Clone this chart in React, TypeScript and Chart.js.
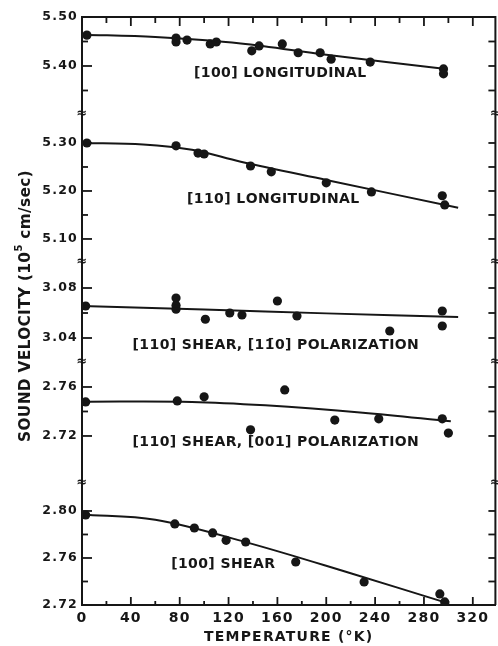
import React, { useEffect, useRef } from 'react';
import { Chart, registerables } from 'chart.js';

Chart.register(...registerables);

// ---------- data (temperature in °K, sound velocity in 10^5 cm/sec) ----------
const l100T = [4, 77, 77, 86, 105, 110, 139, 145, 164, 177, 195, 204, 236, 296, 296];
const l100V = [5.463, 5.457, 5.449, 5.453, 5.445, 5.449, 5.431, 5.441, 5.445, 5.427, 5.427, 5.414, 5.408, 5.394, 5.384];
const l100FitT = [0, 60, 130, 200, 298];
const l100FitV = [5.464, 5.459, 5.446, 5.423, 5.394];

const l110T = [4, 77, 95, 100, 138, 155, 200, 237, 295, 297];
const l110V = [5.300, 5.294, 5.279, 5.277, 5.252, 5.240, 5.217, 5.198, 5.190, 5.171];
const l110FitT = [0, 50, 90, 130, 200, 308];
const l110FitV = [5.300, 5.297, 5.286, 5.261, 5.223, 5.165];

const s110aT = [3, 77, 77, 77, 101, 121, 131, 160, 176, 252, 295, 295];
const s110aV = [3.0656, 3.072, 3.066, 3.063, 3.055, 3.060, 3.0584, 3.0696, 3.0576, 3.0456, 3.0616, 3.0496];
const s110aFitT = [0, 100, 200, 308];
const s110aFitV = [3.0656, 3.0628, 3.0597, 3.0568];

const s110bT = [3, 78, 100, 138, 166, 207, 243, 295, 300];
const s110bV = [2.7478, 2.7486, 2.752, 2.725, 2.7576, 2.733, 2.734, 2.734, 2.7224];
const s110bFitT = [0, 90, 150, 230, 302];
const s110bFitV = [2.748, 2.7478, 2.745, 2.739, 2.732];

const s100T = [3, 76, 92, 107, 118, 134, 175, 231, 293, 297];
const s100V = [2.7966, 2.789, 2.7855, 2.7813, 2.775, 2.7736, 2.7566, 2.7396, 2.7294, 2.7226];
const s100FitT = [0, 60, 134, 220, 298];
const s100FitV = [2.797, 2.7925, 2.7735, 2.747, 2.722];

const seriesNames = [
  '[100] LONGITUDINAL',
  '[110] LONGITUDINAL',
  '[110] SHEAR, [11\u03040] POLARIZATION',
  '[110] SHEAR, [001] POLARIZATION',
  '[100] SHEAR',
];

// axis ranges and ticks of the five broken-axis panels (top to bottom)
const panelIds = ['y1', 'y2', 'y3', 'y4', 'y5'];
const panelMin = [5.302, 5.052, 3.0208, 2.6816, 2.72];
const panelMax = [5.50, 5.3604, 3.1008, 2.7804, 2.8238];
const panelTicks = [
  [5.35, 5.40, 5.45, 5.50],
  [5.10, 5.15, 5.20, 5.25, 5.30],
  [3.04, 3.06, 3.08],
  [2.72, 2.74, 2.76],
  [2.72, 2.74, 2.76, 2.78, 2.80],
];
const panelLabels = [
  [5.40, 5.50],
  [5.10, 5.20, 5.30],
  [3.04, 3.08],
  [2.72, 2.76],
  [2.72, 2.76, 2.80],
];
const xTicks = [0, 20, 40, 60, 80, 100, 120, 140, 160, 180, 200, 220, 240, 260, 280, 300, 320];
const xLabels = [0, 40, 80, 120, 160, 200, 240, 280, 320];

// ---------- layout / style ----------
const panelHeights = [97, 148, 100, 121, 122];
const labelAnchors = [
  { t: 91.7, v: 5.385 },
  { t: 86, v: 5.1833 },
  { t: 41.4, v: 3.0344 },
  { t: 41.4, v: 2.7147 },
  { t: 73, v: 2.7549 },
];
const INK = '#161616';
const FONT = '"DejaVu Sans", sans-serif';

const has = (arr: number[], v: number) => arr.some((a) => Math.abs(a - v) < 1e-6);

const pts = (t: number[], v: number[]) => t.map((x, i) => ({ x, y: v[i] }));

const series = [
  [l100T, l100V, l100FitT, l100FitV],
  [l110T, l110V, l110FitT, l110FitV],
  [s110aT, s110aV, s110aFitT, s110aFitV],
  [s110bT, s110bV, s110bFitT, s110bFitV],
  [s100T, s100V, s100FitT, s100FitV],
];

const decor = {
  id: 'decor',
  beforeDraw(chart: any) {
    chart.ctx.letterSpacing = '1.2px';
  },
  afterDraw(chart: any) {
    const { ctx, chartArea: a, scales } = chart;
    ctx.save();
    ctx.letterSpacing = '0px';
    ctx.strokeStyle = INK;
    ctx.fillStyle = INK;
    const seg = (x1: number, y1: number, x2: number, y2: number) => {
      ctx.beginPath();
      ctx.moveTo(x1, y1);
      ctx.lineTo(x2, y2);
      ctx.stroke();
    };
    // top and right frame
    ctx.lineWidth = 2;
    ctx.beginPath();
    ctx.moveTo(a.left, a.top);
    ctx.lineTo(a.right, a.top);
    ctx.lineTo(a.right, a.bottom);
    ctx.stroke();

    // inward y ticks on both sides
    ctx.lineWidth = 1.8;
    panelIds.forEach((id, i) => {
      const s = scales[id];
      panelTicks[i].forEach((v) => {
        const y = s.getPixelForValue(v);
        const L = has(panelLabels[i], v) ? 10 : 6;
        seg(a.left, y, a.left + L, y);
        seg(a.right, y, a.right - 7, y);
      });
    });
    // inward x ticks (bottom and top)
    const sx = scales.x;
    xTicks.forEach((v) => {
      const x = sx.getPixelForValue(v);
      const major = has(xLabels, v);
      seg(x, a.bottom, x, a.bottom - (major ? 8 : 4));
      seg(x, a.top, x, a.top + (major ? 9 : 6));
    });

    // axis break marks
    ctx.font = `bold 13px ${FONT}`;
    ctx.textAlign = 'center';
    ctx.textBaseline = 'middle';
    for (let i = 1; i < panelIds.length; i++) {
      const y = scales[panelIds[i]].top;
      ctx.fillText('\u2248', a.left, y);
      ctx.fillText('\u2248', a.right, y);
    }

    // series labels inside the plot
    ctx.font = `bold 14px ${FONT}`;
    ctx.textAlign = 'left';
    ctx.textBaseline = 'middle';
    const SP = 0.4;
    seriesNames.forEach((name, i) => {
      const s = scales[panelIds[i]];
      let x = sx.getPixelForValue(labelAnchors[i].t);
      const y = s.getPixelForValue(labelAnchors[i].v);
      // draw character clusters one by one so combining marks stay attached
      const clusters = name.match(/.\u0304?/gu) || [];
      ctx.letterSpacing = '0px';
      clusters.forEach((c) => {
        ctx.fillText(c, x, y);
        x += ctx.measureText(c.replace('\u0304', '')).width + SP;
      });
    });

    // y axis title with superscript
    ctx.letterSpacing = '0.3px';
    const main = `bold 15.4px ${FONT}`;
    const sup = `bold 10px ${FONT}`;
    const parts: [string, string, number][] = [
      ['SOUND VELOCITY (10', main, 0],
      ['5', sup, -8],
      [' cm/sec)', main, 0],
    ];
    let total = 0;
    const widths = parts.map(([txt, f]) => {
      ctx.font = f;
      const w = ctx.measureText(txt).width;
      total += w;
      return w;
    });
    ctx.translate(30, (a.top + a.bottom) / 2 - 5);
    ctx.rotate(-Math.PI / 2);
    ctx.textBaseline = 'alphabetic';
    let x0 = -total / 2;
    parts.forEach(([txt, f, dy], i) => {
      ctx.font = f;
      ctx.fillText(txt, x0, dy);
      x0 += widths[i];
    });
    ctx.restore();
    ctx.letterSpacing = '0px';
  },
};

export default function App() {
  const ref = useRef<HTMLCanvasElement>(null);
  useEffect(() => {
    document.documentElement.style.overflow = 'hidden';
    document.body.style.margin = '0';

    const datasets: any[] = [];
    series.forEach(([t, v, ft, fv], i) => {
      datasets.push({
        type: 'line',
        data: pts(ft, fv),
        yAxisID: panelIds[i],
        borderColor: INK,
        borderWidth: 2,
        pointRadius: 0,
        tension: 0.35,
        fill: false,
      });
      datasets.push({
        type: 'scatter',
        data: pts(t, v),
        yAxisID: panelIds[i],
        pointRadius: 4.6,
        pointBackgroundColor: INK,
        pointBorderWidth: 0,
        showLine: false,
      });
    });

    const scales: any = {
      x: {
        type: 'linear',
        min: 0,
        max: 338.5,
        afterBuildTicks: (s: any) => {
          s.ticks = xTicks.map((value) => ({ value }));
        },
        afterFit: (s: any) => {
          s.height = 41;
        },
        ticks: {
          autoSkip: false,
          maxRotation: 0,
          padding: 5,
          color: INK,
          font: { family: FONT, size: 14, weight: 'bold' },
          callback: (v: any) => (has(xLabels, Number(v)) ? String(v) : ''),
        },
        grid: { drawOnChartArea: false, drawTicks: false },
        border: { display: true, color: INK, width: 2 },
        title: {
          display: true,
          text: 'TEMPERATURE (\u00B0K)',
          color: INK,
          font: { family: FONT, size: 14, weight: 'bold' },
          padding: { top: 0, bottom: 0 },
        },
      },
    };
    panelIds.forEach((id, i) => {
      scales[id] = {
        type: 'linear',
        position: 'left',
        stack: 'vel',
        stackWeight: panelHeights[i],
        weight: panelIds.length - i,
        min: panelMin[i],
        max: panelMax[i],
        afterBuildTicks: (s: any) => {
          s.ticks = panelTicks[i].map((value) => ({ value }));
        },
        afterFit: (s: any) => {
          s.width = 82;
        },
        ticks: {
          autoSkip: false,
          padding: 4,
          color: INK,
          font: { family: FONT, size: 12.5, weight: 'bold' },
          callback: (v: any) => (has(panelLabels[i], Number(v)) ? Number(v).toFixed(2) : ''),
        },
        grid: { drawOnChartArea: false, drawTicks: false },
        border: { display: true, color: INK, width: 2 },
      };
    });

    const chart = new Chart(ref.current as HTMLCanvasElement, {
      type: 'scatter',
      data: { datasets },
      options: {
        animation: false,
        responsive: true,
        maintainAspectRatio: false,
        layout: { padding: { top: 17, right: 1, left: 0, bottom: 0 } },
        plugins: { legend: { display: false }, tooltip: { enabled: false } },
        scales,
      },
      plugins: [decor],
    } as any);
    return () => chart.destroy();
  }, []);

  return (
    <div style={{ width: 500, height: 646, position: 'relative', background: '#fff' }}>
      <canvas ref={ref} />
    </div>
  );
}
